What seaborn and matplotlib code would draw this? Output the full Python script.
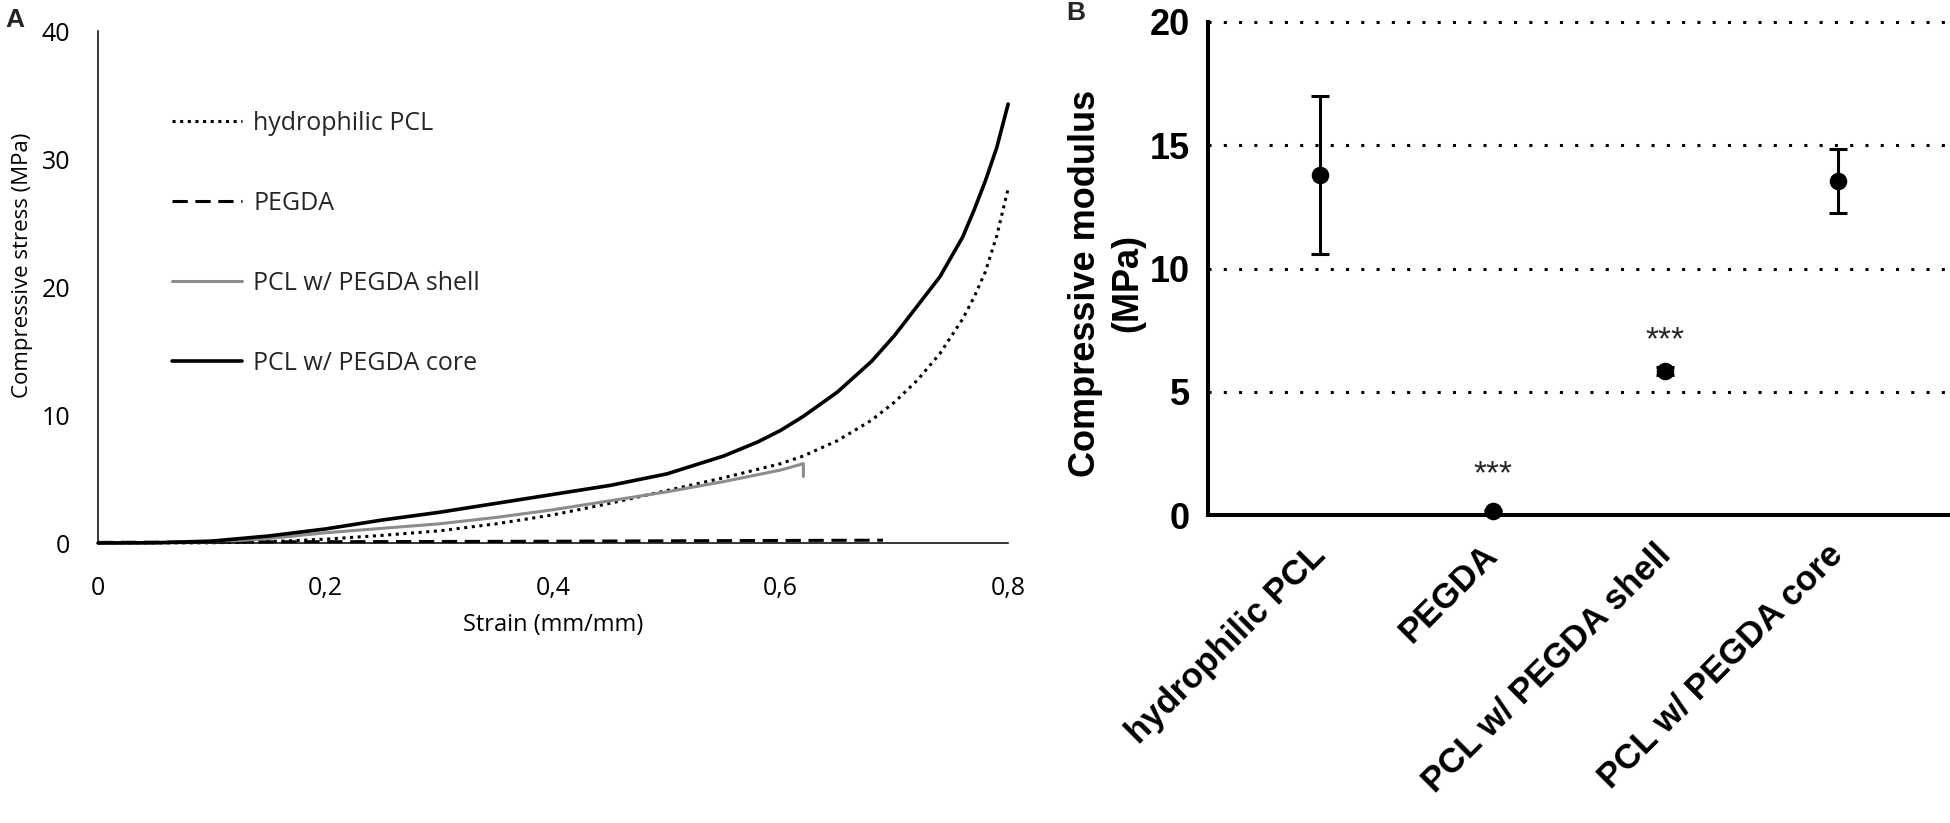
import numpy as np
import pandas as pd
import matplotlib.pyplot as plt
import seaborn as sns

# ---- panel A: stress-strain curves ----
hydro_strain = [0, 0.05, 0.1, 0.15, 0.2, 0.25, 0.3, 0.35, 0.4, 0.45, 0.5, 0.55, 0.6, 0.62,
                0.65, 0.68, 0.7, 0.72, 0.74, 0.76, 0.77, 0.78, 0.79, 0.8]
hydro_stress = [0, 0, 0.02, 0.1, 0.3, 0.6, 0.95, 1.5, 2.2, 3.1, 4.1, 5.1, 6.2, 6.8,
                8.0, 9.6, 11.0, 12.7, 14.8, 17.5, 19.2, 21.2, 24.0, 27.7]

pegda_strain = [0, 0.1, 0.2, 0.3, 0.4, 0.5, 0.6, 0.69]
pegda_stress = [0.05, 0.08, 0.1, 0.12, 0.14, 0.17, 0.2, 0.22]

shell_strain = [0, 0.05, 0.1, 0.15, 0.2, 0.25, 0.3, 0.35, 0.4, 0.45, 0.5, 0.55, 0.6, 0.62, 0.62]
shell_stress = [0, 0, 0.05, 0.35, 0.8, 1.15, 1.5, 2.0, 2.6, 3.3, 4.0, 4.8, 5.7, 6.2, 5.2]

core_strain = [0, 0.05, 0.1, 0.15, 0.2, 0.25, 0.3, 0.35, 0.4, 0.45, 0.5, 0.55, 0.58, 0.6, 0.62,
               0.65, 0.68, 0.7, 0.72, 0.74, 0.76, 0.77, 0.78, 0.79, 0.8]
core_stress = [0, 0.02, 0.15, 0.55, 1.1, 1.8, 2.4, 3.1, 3.8, 4.5, 5.4, 6.8, 7.9, 8.8, 9.9,
               11.8, 14.2, 16.2, 18.5, 20.8, 23.9, 26.0, 28.3, 30.9, 34.3]

a_xticks = [0, 0.2, 0.4, 0.6, 0.8]
a_xtick_labels = ['0', '0,2', '0,4', '0,6', '0,8']
a_yticks = [0, 10, 20, 30, 40]

# ---- panel B: compressive modulus, mean +/- sd ----
b_groups = ['hydrophilic PCL', 'PEGDA', 'PCL w/ PEGDA shell', 'PCL w/ PEGDA core']
b_means = [13.8, 0.17, 5.84, 13.55]
b_sd = [3.2, 0.05, 0.15, 1.3]
b_sig = ['', '***', '***', '']
b_sig_y = [0, 1.27, 6.72, 0]
b_yticks = [0, 5, 10, 15, 20]

sns.set_theme(style='white')
plt.rcParams['font.family'] = ['Open Sans', 'DejaVu Sans']
bold_font = ['Liberation Sans', 'DejaVu Sans']

fig = plt.figure(figsize=(19.5, 8.23), dpi=100)
axA = fig.add_axes([0.0503, 0.3402, 0.4667, 0.6221])
axB = fig.add_axes([0.6195, 0.3742, 0.3805, 0.5991])

series = [
    ('hydrophilic PCL', hydro_strain, hydro_stress, 'black', 2.2, (0, (1, 1.5))),
    ('PEGDA', pegda_strain, pegda_stress, 'black', 2.2, (0, (5, 2.5))),
    ('PCL w/ PEGDA shell', shell_strain, shell_stress, '#8c8c8c', 2.2, '-'),
    ('PCL w/ PEGDA core', core_strain, core_stress, 'black', 2.6, '-'),
]
for name, xs, ys, col, lw, ls in series:
    sns.lineplot(x=xs, y=ys, ax=axA, color=col, linewidth=lw, linestyle=ls,
                 estimator=None, sort=False, label=name, clip_on=False)

axA.set_xlim(0, 0.8)
axA.set_ylim(0, 40)
axA.set_xticks(a_xticks)
axA.set_xticklabels(a_xtick_labels)
axA.set_yticks(a_yticks)
for s in ['top', 'right']:
    axA.spines[s].set_visible(False)
for s in ['left', 'bottom']:
    axA.spines[s].set_color('black')
    axA.spines[s].set_linewidth(1.1)
axA.tick_params(axis='both', direction='in', length=6, width=1.1, colors='black', labelsize=18)
axA.tick_params(axis='x', pad=24)
axA.tick_params(axis='y', pad=20)
axA.set_xlabel('Strain (mm/mm)', fontsize=17, color='black')
axA.set_ylabel('Compressive stress (MPa)', fontsize=16, color='black')
axA.xaxis.set_label_coords(0.5, -0.137)
axA.yaxis.set_label_coords(-0.071, 0.543)
axA.legend(loc='upper left', bbox_to_anchor=(0.0882, 0.865), bbox_transform=fig.transFigure,
           frameon=False, fontsize=18, handlelength=2.8, handletextpad=0.45,
           labelspacing=2.2, borderpad=0, borderaxespad=0)

# panel B
for y in b_yticks[1:]:
    axB.axhline(y, color='black', linewidth=2.2, linestyle=(0, (1, 4)), clip_on=False, zorder=1)
sns.scatterplot(x=b_groups, y=b_means, ax=axB, color='black', s=160, linewidth=0,
                zorder=5, clip_on=False, legend=False)
axB.errorbar(np.arange(len(b_groups)), b_means, yerr=b_sd, fmt='none', ecolor='black',
             elinewidth=2.2, capsize=6.5, capthick=2.2, zorder=4, clip_on=False)
for i, (lab, y) in enumerate(zip(b_sig, b_sig_y)):
    if lab:
        axB.text(i, y, lab, ha='center', va='baseline', fontsize=24, family=bold_font)

axB.set_xlim(-0.65, 3.65)
axB.set_ylim(0, 20)
axB.set_yticks(b_yticks)
axB.set_xticks(range(len(b_groups)))
axB.set_xticklabels(b_groups, rotation=45, ha='right', va='center', rotation_mode='anchor')
for s in ['top', 'right']:
    axB.spines[s].set_visible(False)
for s in ['left', 'bottom']:
    axB.spines[s].set_color('black')
    axB.spines[s].set_linewidth(2.9)
axB.tick_params(axis='y', direction='out', length=9.5, width=2.9, colors='black', pad=3.5)
axB.tick_params(axis='x', direction='out', length=11, width=2.9, colors='black', pad=14)
for t in axB.get_yticklabels():
    t.set_fontsize(26)
    t.set_fontweight('bold')
    t.set_family(bold_font)
for t in axB.get_xticklabels():
    t.set_fontsize(25)
    t.set_fontweight('bold')
    t.set_family(bold_font)
axB.set_ylabel('Compressive modulus\n(MPa)', fontsize=26, fontweight='bold',
               family=bold_font, linespacing=1.25, color='black')
axB.yaxis.set_label_coords(-0.085, 0.47)

fig.text(5 / 1950, 1 - 8 / 823, 'A', fontsize=19, fontweight='bold', va='top', family=bold_font)
fig.text(1066 / 1950, 0.999, 'B', fontsize=19, fontweight='bold', va='top', family=bold_font)

fig.savefig('out.png', dpi=100)
